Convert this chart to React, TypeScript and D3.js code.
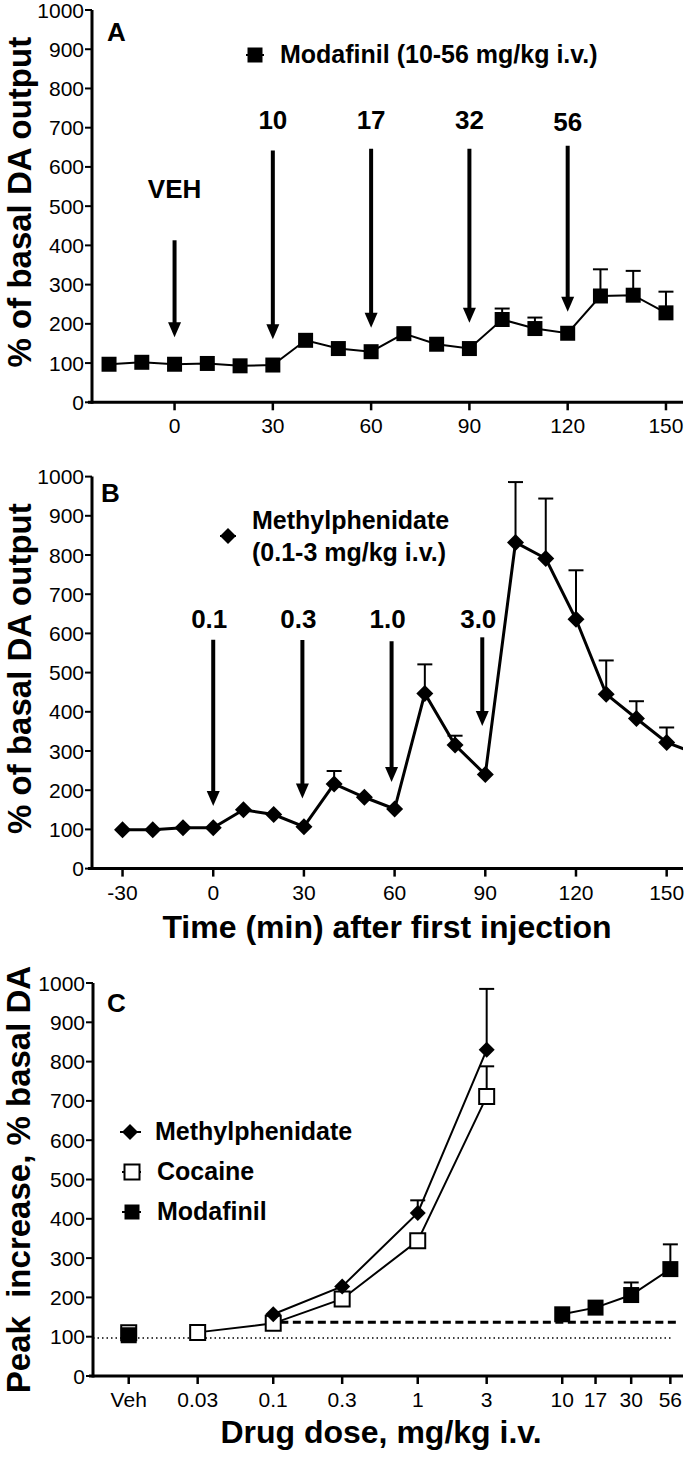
import React from 'react';
import * as d3 from 'd3';

const FONT = "'Liberation Sans', Arial, Helvetica, sans-serif";

// Panel A: modafinil time course
const timesA = [-20, -10, 0, 10, 20, 30, 40, 50, 60, 70, 80, 90, 100, 110, 120, 130, 140, 150];
const modafinilDA = [97, 102, 97, 99, 93, 95, 158, 137, 129, 175, 148, 137, 211, 188, 176, 271, 273, 228];
const modafinilSEM = [0, 0, 0, 0, 0, 0, 0, 0, 0, 0, 0, 0, 28, 28, 0, 68, 62, 54];
const injTimesA = [0, 30, 60, 90, 120];
const injLabelsA = ['VEH', '10', '17', '32', '56'];
const arrowTopA = [413, 642, 646, 646, 654];
const arrowTipA = [166, 161, 190, 203, 231];
const labelBaseA = [522, 697, 697, 697, 692];

// Panel B: methylphenidate time course
const timesB = [-30, -20, -10, 0, 10, 20, 30, 40, 50, 60, 70, 80, 90, 100, 110, 120, 130, 140, 150, 160];
const methDA = [99, 99, 104, 104, 150, 138, 107, 216, 182, 152, 447, 315, 240, 832, 791, 636, 445, 383, 322, 292];
const methSEM = [0, 0, 0, 0, 0, 0, 0, 33, 0, 0, 74, 24, 0, 154, 153, 125, 86, 44, 38, 0];
const injTimesB = [0, 29.5, 59, 89];
const injLabelsB = ['0.1', '0.3', '1.0', '3.0'];
const arrowTopB = [584, 583, 580, 590];
const arrowTipB = [160, 179, 221, 364];
const labelBaseB = [614, 614, 614, 614];

// Panel C: peak increase vs dose (Veh plotted at 0.01)
const doseTicks = [0.01, 0.03, 0.1, 0.3, 1, 3, 10, 17, 30, 56];
const doseTickLabels = ['Veh', '0.03', '0.1', '0.3', '1', '3', '10', '17', '30', '56'];
const methDoses = [0.1, 0.3, 1, 3];
const methPeak = [157, 228, 415, 830];
const methPeakSEM = [0, 0, 32, 155];
const cocaineDoses = [0.01, 0.03, 0.1, 0.3, 1, 3];
const cocainePeak = [110, 111, 134, 196, 344, 711];
const cocainePeakSEM = [0, 0, 0, 0, 0, 77];
const modaDoses = [0.01, 10, 17, 30, 56];
const modaPeak = [104, 157, 174, 206, 272];
const modaPeakSEM = [0, 0, 0, 32, 63];
const dashedLevel = 137;
const dashedDoses = [0.112, 62];
const dottedLevel = 97;
const dottedDoses = [0.00566, 57];

const yTicks = [0, 100, 200, 300, 400, 500, 600, 700, 800, 900, 1000];

type Lin = d3.ScaleLinear<number, number> | d3.ScaleLogarithmic<number, number>;

function Axes({ x, y, xticks, xlabels }: { x: Lin; y: d3.ScaleLinear<number, number>; xticks: number[]; xlabels: string[] }) {
  const [x0, x1] = x.range();
  const y0 = y(0);
  return (
    <g fontFamily={FONT} fontSize={21} fill="#000">
      <line x1={x0} x2={x0} y1={y(1000)} y2={y0 + 1.5} stroke="#000" strokeWidth={3} />
      <line x1={x0 - 4} x2={x1} y1={y0} y2={y0} stroke="#000" strokeWidth={3} />
      {yTicks.map(t => (
        <g key={'y' + t}>
          <line x1={x0 - 7} x2={x0} y1={y(t)} y2={y(t)} stroke="#000" strokeWidth={2} />
          <text x={x0 - 8} y={y(t) + 7.5} textAnchor="end">{t}</text>
        </g>
      ))}
      {xticks.map((t, i) => (
        <g key={'x' + i}>
          <line x1={x(t)} x2={x(t)} y1={y0} y2={y0 + 8} stroke="#000" strokeWidth={2.5} />
          <text x={x(t)} y={y0 + 31} textAnchor="middle">{xlabels[i]}</text>
        </g>
      ))}
    </g>
  );
}

function Arrow({ x, yTop, yTip }: { x: number; yTop: number; yTip: number }) {
  const head = 15;
  return (
    <g>
      <line x1={x} x2={x} y1={yTop} y2={yTip - head + 2} stroke="#000" strokeWidth={4} />
      <path d={`M${x - 6.5},${yTip - head} L${x + 6.5},${yTip - head} L${x},${yTip} Z`} fill="#000" />
    </g>
  );
}

function ErrorBar({ x, y1, y2 }: { x: number; y1: number; y2: number }) {
  if (Math.abs(y1 - y2) < 0.5) return null;
  return (
    <g stroke="#000" strokeWidth={2}>
      <line x1={x} x2={x} y1={y1} y2={y2} />
      <line x1={x - 7.5} x2={x + 7.5} y1={y2} y2={y2} />
    </g>
  );
}

const square = (cx: number, cy: number, s: number) => `M${cx - s / 2},${cy - s / 2}h${s}v${s}h${-s}Z`;
const diamond = (cx: number, cy: number, r: number) => `M${cx},${cy - r}L${cx + r},${cy}L${cx},${cy + r}L${cx - r},${cy}Z`;

export default function App() {
  const xA = d3.scaleLinear().domain([-25.2, 155.2]).range([92, 683]);
  const yA = d3.scaleLinear().domain([0, 1000]).range([402.3, 10]);
  const xB = d3.scaleLinear().domain([-40.1, 155.4]).range([92, 683]);
  const yB = d3.scaleLinear().domain([0, 1000]).range([868.6, 476.6]);
  const xC = d3.scaleLog().domain([0.00566, 68.5]).range([93, 683]);
  const yC = d3.scaleLinear().domain([0, 1000]).range([1376, 983]);

  const lineA = d3.line<number>().x((_, i) => xA(timesA[i])).y(d => yA(d));
  const lineB = d3.line<number>().x((_, i) => xB(timesB[i])).y(d => yB(d));
  const lineC = (doses: number[]) => d3.line<number>().x((_, i) => xC(doses[i])).y(d => yC(d));

  const cocLineDoses = cocaineDoses.slice(1);
  const cocLineVals = cocainePeak.slice(1);
  const modLineDoses = modaDoses.slice(1);
  const modLineVals = modaPeak.slice(1);

  return (
    <svg width={685} height={1458} style={{ position: 'absolute', left: 0, top: 0, background: '#fff' }}>
      <defs>
        <clipPath id="clipB">
          <rect x={92} y={440} width={591} height={440} />
        </clipPath>
      </defs>

      {/* ---------- Panel A ---------- */}
      <text transform={`translate(31,${(yA(0) + yA(1000)) / 2 - 4}) rotate(-90)`} textAnchor="middle"
        fontFamily={FONT} fontWeight="bold" fontSize={33}>% of basal DA output</text>
      <Axes x={xA} y={yA} xticks={[0, 30, 60, 90, 120, 150]} xlabels={['0', '30', '60', '90', '120', '150']} />
      <text x={107} y={41} fontFamily={FONT} fontWeight="bold" fontSize={26}>A</text>
      <line x1={246} x2={264} y1={55} y2={55} stroke="#000" strokeWidth={2} />
      <path d={square(255, 55, 15)} fill="#000" />
      <text x={280} y={63} fontFamily={FONT} fontWeight="bold" fontSize={25}>Modafinil (10-56 mg/kg i.v.)</text>
      {injTimesA.map((t, i) => (
        <g key={'ia' + i}>
          <Arrow x={xA(t)} yTop={yA(arrowTopA[i])} yTip={yA(arrowTipA[i])} />
          <text x={xA(t)} y={yA(labelBaseA[i])} textAnchor="middle" fontFamily={FONT} fontWeight="bold" fontSize={26}>{injLabelsA[i]}</text>
        </g>
      ))}
      {modafinilDA.map((v, i) => (
        <ErrorBar key={'ea' + i} x={xA(timesA[i])} y1={yA(v)} y2={yA(v + modafinilSEM[i])} />
      ))}
      <path d={lineA(modafinilDA) || ''} fill="none" stroke="#000" strokeWidth={2} />
      {modafinilDA.map((v, i) => (
        <path key={'ma' + i} d={square(xA(timesA[i]), yA(v), 15)} fill="#000" />
      ))}

      {/* ---------- Panel B ---------- */}
      <text transform={`translate(31,${(yB(0) + yB(1000)) / 2 - 4}) rotate(-90)`} textAnchor="middle"
        fontFamily={FONT} fontWeight="bold" fontSize={33}>% of basal DA output</text>
      <Axes x={xB} y={yB} xticks={[-30, 0, 30, 60, 90, 120, 150]} xlabels={['-30', '0', '30', '60', '90', '120', '150']} />
      <text x={101} y={502} fontFamily={FONT} fontWeight="bold" fontSize={26}>B</text>
      <line x1={220} x2={236} y1={536} y2={536} stroke="#000" strokeWidth={2} />
      <path d={diamond(228, 536, 8)} fill="#000" />
      <text x={252} y={529} fontFamily={FONT} fontWeight="bold" fontSize={25}>Methylphenidate</text>
      <text x={252} y={561} fontFamily={FONT} fontWeight="bold" fontSize={25}>(0.1-3 mg/kg i.v.)</text>
      {injTimesB.map((t, i) => (
        <g key={'ib' + i}>
          <Arrow x={xB(t)} yTop={yB(arrowTopB[i])} yTip={yB(arrowTipB[i])} />
          <text x={xB(t) - 4} y={yB(labelBaseB[i])} textAnchor="middle" fontFamily={FONT} fontWeight="bold" fontSize={26}>{injLabelsB[i]}</text>
        </g>
      ))}
      <g clipPath="url(#clipB)">
        {methDA.map((v, i) => (
          <ErrorBar key={'eb' + i} x={xB(timesB[i])} y1={yB(v)} y2={yB(v + methSEM[i])} />
        ))}
        <path d={lineB(methDA) || ''} fill="none" stroke="#000" strokeWidth={3} />
        {methDA.map((v, i) => (
          <path key={'mb' + i} d={diamond(xB(timesB[i]), yB(v), 8.5)} fill="#000" />
        ))}
      </g>
      <text x={387} y={938} textAnchor="middle" fontFamily={FONT} fontWeight="bold" fontSize={32}>Time (min) after first injection</text>

      {/* ---------- Panel C ---------- */}
      <text transform={`translate(30,${(yC(0) + yC(1000)) / 2}) rotate(-90)`} textAnchor="middle"
        fontFamily={FONT} fontWeight="bold" fontSize={33} style={{ whiteSpace: 'pre' }}>{'Peak  increase, % basal DA'}</text>
      <Axes x={xC} y={yC} xticks={doseTicks} xlabels={doseTickLabels} />
      <text x={107} y={1012} fontFamily={FONT} fontWeight="bold" fontSize={26}>C</text>

      <line x1={xC(dottedDoses[0])} x2={xC(dottedDoses[1])} y1={yC(dottedLevel)} y2={yC(dottedLevel)}
        stroke="#000" strokeWidth={1.5} strokeDasharray="1.5,3" />
      <line x1={xC(dashedDoses[0])} x2={xC(dashedDoses[1])} y1={yC(dashedLevel)} y2={yC(dashedLevel)}
        stroke="#000" strokeWidth={3} strokeDasharray="8,4.5" />

      {/* legend */}
      <line x1={120} x2={141} y1={1132} y2={1132} stroke="#000" strokeWidth={2} />
      <path d={diamond(130, 1132, 8)} fill="#000" />
      <text x={155} y={1140} fontFamily={FONT} fontWeight="bold" fontSize={25}>Methylphenidate</text>
      <line x1={122} x2={141} y1={1172} y2={1172} stroke="#000" strokeWidth={2} />
      <path d={square(132, 1172, 15)} fill="#fff" stroke="#000" strokeWidth={2} />
      <text x={157} y={1180} fontFamily={FONT} fontWeight="bold" fontSize={25}>Cocaine</text>
      <line x1={122} x2={141} y1={1212} y2={1212} stroke="#000" strokeWidth={2} />
      <path d={square(132, 1212, 15)} fill="#000" />
      <text x={157} y={1220} fontFamily={FONT} fontWeight="bold" fontSize={25}>Modafinil</text>

      {/* error bars */}
      {methPeak.map((v, i) => (
        <ErrorBar key={'ecm' + i} x={xC(methDoses[i])} y1={yC(v)} y2={yC(v + methPeakSEM[i])} />
      ))}
      {cocainePeak.map((v, i) => (
        <ErrorBar key={'ecc' + i} x={xC(cocaineDoses[i])} y1={yC(v)} y2={yC(v + cocainePeakSEM[i])} />
      ))}
      {modaPeak.map((v, i) => (
        <ErrorBar key={'ecd' + i} x={xC(modaDoses[i])} y1={yC(v)} y2={yC(v + modaPeakSEM[i])} />
      ))}

      {/* lines */}
      <path d={lineC(cocLineDoses)(cocLineVals) || ''} fill="none" stroke="#000" strokeWidth={2} />
      <path d={lineC(methDoses)(methPeak) || ''} fill="none" stroke="#000" strokeWidth={2} />
      <path d={lineC(modLineDoses)(modLineVals) || ''} fill="none" stroke="#000" strokeWidth={2} />

      {/* markers */}
      {cocainePeak.map((v, i) => (
        <path key={'mcc' + i} d={square(xC(cocaineDoses[i]), yC(v), 15)} fill="#fff" stroke="#000" strokeWidth={2} />
      ))}
      {methPeak.map((v, i) => (
        <path key={'mcm' + i} d={diamond(xC(methDoses[i]), yC(v), 8)} fill="#000" />
      ))}
      {modaPeak.map((v, i) => (
        <path key={'mcd' + i} d={square(xC(modaDoses[i]), yC(v), 16)} fill="#000" />
      ))}

      <text x={381} y={1443} textAnchor="middle" fontFamily={FONT} fontWeight="bold" fontSize={32}>Drug dose, mg/kg i.v.</text>
    </svg>
  );
}
